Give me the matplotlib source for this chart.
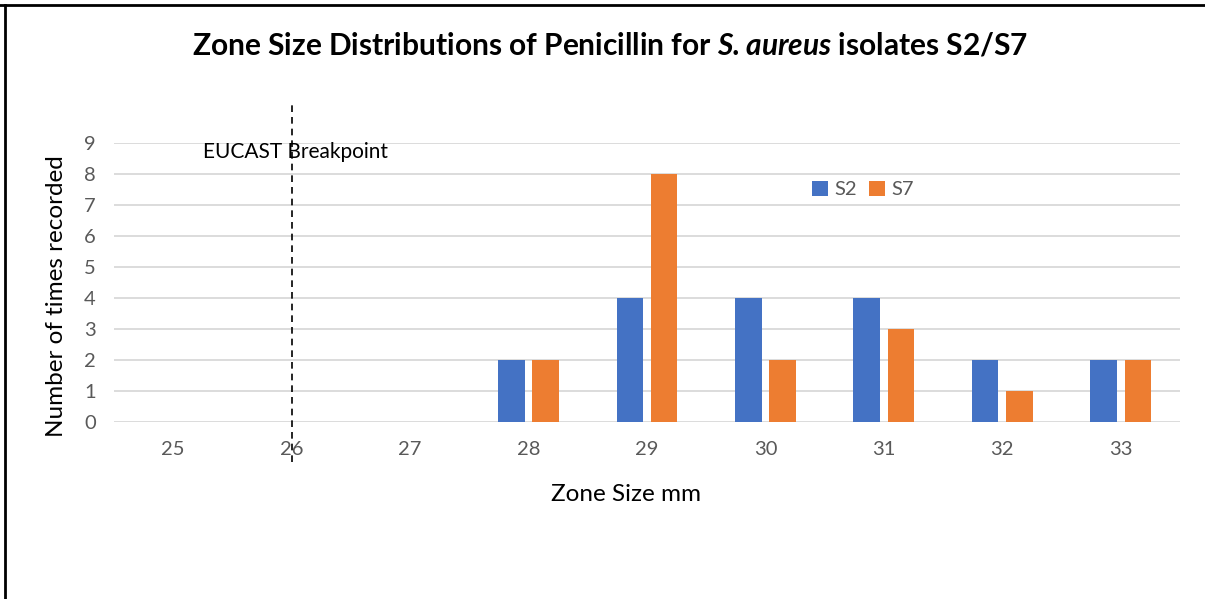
import matplotlib
matplotlib.use("Agg")
import matplotlib.pyplot as plt
from matplotlib.lines import Line2D
import numpy as np

plt.rcParams['font.family'] = ['Lato', 'DejaVu Sans']
plt.rcParams['mathtext.fontset'] = 'custom'
plt.rcParams['mathtext.bfit'] = 'Lato:bold:italic'
plt.rcParams['mathtext.rm'] = 'Lato:bold'

# data
zone_sizes = ['25', '26', '27', '28', '29', '30', '31', '32', '33']
s2_counts = [0, 0, 0, 2, 4, 4, 4, 2, 2]
s7_counts = [0, 0, 0, 2, 8, 2, 3, 1, 2]
breakpoint_label = '26'

blue = '#4472C4'
orange = '#ED7D31'

fig = plt.figure(figsize=(12.05, 5.99), dpi=100)
ax = fig.add_axes([114 / 1205, 1 - 422 / 599, 1066 / 1205, 279 / 599])

x = np.arange(len(zone_sizes))
width = 0.225
ax.bar(x - 0.145, s2_counts, width, color=blue, label='S2', zorder=3)
ax.bar(x + 0.145, s7_counts, width, color=orange, label='S7', zorder=3)

ax.set_xlim(-0.5, len(zone_sizes) - 0.5)
ax.set_ylim(0, 9)
ax.set_yticks(range(0, 10))
ax.set_xticks(x)
ax.set_xticklabels(zone_sizes)
ax.tick_params(axis='both', length=0, labelsize=14.5, colors='#595959')
ax.tick_params(axis='x', pad=14)
ax.tick_params(axis='y', pad=13)
ax.grid(axis='y', color='#d9d9d9', linewidth=1.3, zorder=0)
for s in ax.spines.values():
    s.set_visible(False)

ax.set_ylabel('Number of times recorded', fontsize=17.5)
ax.yaxis.set_label_coords(-0.044, 0.45)
ax.set_xlabel('Zone Size mm', fontsize=17.5)
ax.xaxis.set_label_coords(0.48, -0.222)

# breakpoint line spans above and below the plot area
bx = zone_sizes.index(breakpoint_label)
ax.add_line(Line2D([bx, bx], [-1.3, 10.3], color='black', linestyle=(0, (4, 3)),
                   linewidth=1.2, clip_on=False, zorder=4))
ax.text(bx - 0.75, 8.72, 'EUCAST Breakpoint', fontsize=15, va='center', ha='left', zorder=5)

leg = ax.legend(loc='upper left', bbox_to_anchor=(0.638, 0.93), ncol=2, frameon=False,
                fontsize=14.5, handlelength=0.8, handleheight=0.8, handletextpad=0.3,
                columnspacing=0.6)
for t in leg.get_texts():
    t.set_color('#595959')

fig.text(0.506, 1 - 45 / 599,
         r'Zone Size Distributions of Penicillin for $\mathbfit{S. aureus}$ isolates S2/S7',
         fontsize=21.5, fontweight='bold', ha='center', va='center')

# outer frame: top and left edges only
fig.add_artist(Line2D([0, 1], [1 - 5 / 599, 1 - 5 / 599], color='black', linewidth=2,
                      transform=fig.transFigure))
fig.add_artist(Line2D([5 / 1205, 5 / 1205], [0, 1 - 5 / 599], color='black', linewidth=2,
                      transform=fig.transFigure))

plt.savefig('out.png', dpi=100)
